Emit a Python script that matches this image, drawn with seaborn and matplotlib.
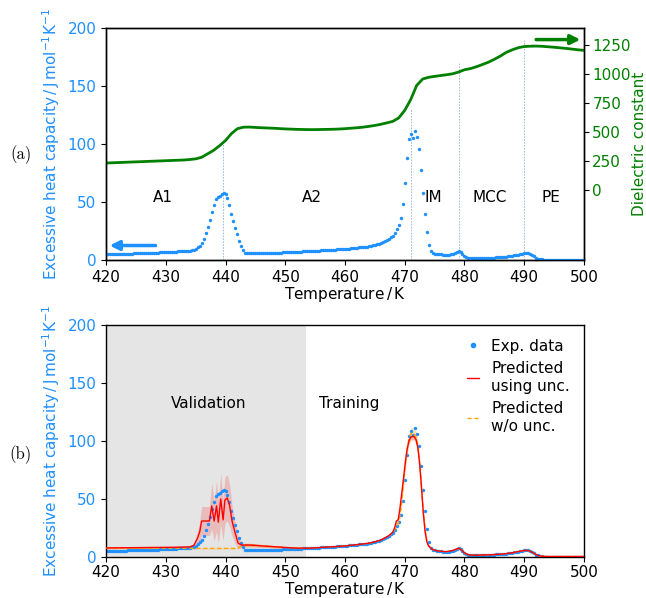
import numpy as np
import matplotlib
matplotlib.use("Agg")
import matplotlib.pyplot as plt
from matplotlib.lines import Line2D
import seaborn as sns

# ---------------- data ----------------
# Excess heat capacity, measured every 1/3 K from 420 K to 500 K
temp_exp = np.linspace(420, 500, 241)
cp_exp = [
    5.2, 5.2, 5.3, 5.3, 5.3, 5.4, 5.4, 5.4, 5.5, 5.5,
    5.5, 5.6, 5.6, 5.6, 5.7, 5.7, 5.7, 5.8, 5.8, 5.9,
    5.9, 6.0, 6.0, 6.1, 6.2, 6.3, 6.4, 6.5, 6.6, 6.7,
    6.8, 6.9, 7.0, 7.1, 7.2, 7.3, 7.4, 7.5, 7.6, 7.7,
    7.8, 7.9, 8.0, 8.3, 8.8, 9.5, 10.8, 12.5, 14.8, 18.5,
    23.5, 28.5, 34.5, 41.0, 47.5, 52.5, 54.5, 55.5, 56.5, 57.8,
    57.0, 53.5, 47.5, 40.0, 33.5, 27.5, 22.0, 16.5, 12.0, 8.5,
    6.2, 5.8, 5.7, 5.7, 5.8, 5.8, 5.8, 5.9, 5.9, 5.9,
    6.0, 6.0, 6.0, 6.1, 6.1, 6.2, 6.3, 6.4, 6.4, 6.5,
    6.6, 6.7, 6.8, 6.8, 6.9, 7.0, 7.1, 7.2, 7.3, 7.4,
    7.5, 7.5, 7.6, 7.7, 7.8, 7.9, 8.0, 8.1, 8.2, 8.3,
    8.4, 8.5, 8.6, 8.8, 8.9, 9.0, 9.1, 9.2, 9.3, 9.4,
    9.6, 9.7, 9.9, 10.0, 10.2, 10.4, 10.6, 10.8, 11.0, 11.2,
    11.4, 11.6, 11.9, 12.2, 12.6, 13.0, 13.5, 14.0, 14.6, 15.3,
    16.2, 17.3, 18.5, 19.8, 21.0, 23.5, 26.5, 30.0, 36.0, 48.0,
    66.0, 88.0, 104.0, 109.0, 105.0, 111.0, 106.0, 96.0, 78.0, 58.0,
    40.0, 24.0, 13.0, 8.0, 6.2, 5.6, 5.2, 5.0, 4.8, 4.6,
    4.5, 4.5, 4.7, 5.0, 5.4, 6.0, 7.0, 7.8, 6.8, 5.0,
    3.3, 2.4, 1.9, 1.6, 1.5, 1.4, 1.4, 1.5, 1.6, 1.6,
    1.7, 1.8, 1.8, 1.9, 2.0, 2.1, 2.2, 2.3, 2.4, 2.5,
    2.7, 2.9, 3.1, 3.3, 3.6, 3.9, 4.3, 4.7, 5.1, 5.5,
    5.8, 5.9, 5.7, 5.2, 4.3, 3.2, 2.1, 1.3, 0.8, 0.5,
    0.4, 0.4, 0.4, 0.4, 0.3, 0.3, 0.3, 0.3, 0.3, 0.3,
    0.3, 0.3, 0.3, 0.3, 0.3, 0.3, 0.3, 0.3, 0.3, 0.3, 0.3,
]

# Dielectric constant, every 1 K
temp_diel = np.arange(420, 501)
diel = [
    236, 238, 240, 242, 244, 246, 248, 250, 252, 254,
    256, 258, 260, 262, 266, 272, 285, 315, 345, 385,
    430, 490, 532, 545, 546, 543, 540, 538, 536, 533,
    530, 528, 526, 525, 524, 524, 525, 526, 527, 529,
    532, 536, 540, 545, 552, 560, 570, 582, 595, 625,
    690, 783, 905, 960, 975, 983, 990, 997, 1005, 1020,
    1040, 1050, 1066, 1085, 1105, 1130, 1158, 1190, 1212, 1230,
    1240, 1243, 1244, 1242, 1238, 1234, 1229, 1224, 1218, 1212, 1207,
]

# Phase boundaries and phase names
phase_T = [439.6, 471.0, 479.0, 490.0]
phase_line_top = [100, 130, 170, 190]
phase_names = ["A1", "A2", "IM", "MCC", "PE"]
phase_label_T = [429.5, 454.5, 474.7, 484.3, 494.5]

# Model predictions (with / without uncertainty information)
pred_T = [
    420, 422, 424, 426, 428, 430, 432, 434, 434.7, 435.3,
    435.7, 436.0, 437.3, 437.7, 438.1, 438.5, 438.8, 439.2, 439.6, 439.9,
    440.3, 440.7, 441.1, 441.6, 442.1, 442.7, 443.3, 444, 445, 446,
    448, 450, 452, 454, 456, 458, 460, 462, 464, 465,
    466, 467, 467.5, 468, 468.3, 468.6, 468.9, 469.2, 469.5, 469.8,
    470.1, 470.4, 470.7, 471.0, 471.3, 471.6, 471.9, 472.2, 472.5, 472.8,
    473.1, 473.4, 473.7, 474.0, 474.5, 475, 476, 477, 478, 478.5,
    479, 479.5, 480, 480.5, 481, 482, 483, 484, 485, 486,
    487, 488, 489, 490, 490.5, 491, 491.5, 492, 492.5, 493,
    494, 496, 498, 500,
]
cp_pred_unc = [
    7.8, 7.9, 8.0, 8.1, 8.2, 8.3, 8.4, 8.7, 10.0, 16.0,
    22.0, 31.0, 31.0, 44.0, 31.0, 44.0, 30.0, 50.0, 32.0, 49.0,
    51.0, 44.0, 31.0, 21.0, 12.0, 10.2, 10.3, 10.3, 10.0, 9.6,
    8.9, 8.2, 7.6, 7.6, 8.2, 8.8, 9.5, 10.6, 11.9, 13.0,
    14.6, 17.3, 19.0, 21.5, 25.0, 31.0, 32.0, 42.0, 55.0, 68.0,
    82.0, 93.0, 100.0, 103.0, 104.0, 103.5, 101.0, 94.0, 80.0, 60.0,
    38.0, 22.0, 13.0, 9.5, 7.0, 5.8, 4.9, 4.6, 5.5, 6.5,
    7.6, 6.0, 3.5, 2.2, 1.7, 1.5, 1.7, 1.9, 2.1, 2.4,
    2.9, 3.6, 4.7, 5.6, 5.7, 5.0, 3.6, 2.0, 1.0, 0.6,
    0.4, 0.4, 0.4, 0.4,
]
sd_pred_unc = [
    0.8, 0.8, 0.8, 0.8, 0.8, 0.8, 0.8, 0.8, 1.5, 6.0,
    9.0, 12.5, 12.5, 20.0, 17.0, 22.0, 18.0, 22.0, 18.0, 20.0,
    20.0, 18.0, 13.0, 9.0, 5.0, 2.0, 1.5, 1.5, 1.3, 1.2,
    1.0, 0.9, 0.8, 0.6, 0.6, 0.6, 0.6, 0.6, 0.7, 0.7,
    0.8, 0.9, 1.0, 1.2, 1.5, 2.0, 2.0, 2.5, 3.0, 3.0,
    3.0, 3.0, 3.0, 3.0, 3.0, 3.0, 3.0, 3.0, 3.0, 3.0,
    2.5, 2.0, 1.5, 1.0, 0.8, 0.6, 0.5, 0.5, 0.5, 0.5,
    0.5, 0.5, 0.5, 0.5, 0.5, 0.5, 0.5, 0.5, 0.5, 0.5,
    0.5, 0.5, 0.5, 0.5, 0.5, 0.5, 0.5, 0.5, 0.5, 0.5,
    0.5, 0.5, 0.5, 0.5,
]
cp_pred_nounc = [
    7.6, 7.6, 7.6, 7.6, 7.6, 7.6, 7.6, 7.5, 7.4, 7.4,
    7.4, 7.4, 7.4, 7.4, 7.4, 7.4, 7.4, 7.4, 7.4, 7.4,
    7.4, 7.4, 7.4, 7.4, 7.8, 9.5, 10.3, 10.3, 10.0, 9.6,
    8.9, 8.2, 7.6, 7.6, 8.2, 8.8, 9.5, 10.6, 11.9, 13.0,
    14.6, 17.3, 19.0, 21.0, 23.5, 26.5, 29.0, 36.0, 48.0, 64.0,
    80.0, 93.0, 102.0, 106.0, 107.0, 106.0, 103.0, 95.0, 80.0, 61.0,
    40.0, 24.0, 14.0, 9.5, 7.0, 5.8, 4.9, 4.6, 5.5, 6.5,
    7.6, 6.0, 3.5, 2.2, 1.7, 1.5, 1.7, 1.9, 2.1, 2.4,
    2.9, 3.6, 4.7, 5.6, 5.7, 5.0, 3.6, 2.0, 1.0, 0.6,
    0.4, 0.4, 0.4, 0.4,
]
sd_pred_nounc = [
    0.5, 0.5, 0.5, 0.5, 0.5, 0.5, 0.5, 0.5, 0.5, 0.5,
    0.5, 0.5, 0.5, 0.5, 0.5, 0.5, 0.5, 0.5, 0.5, 0.5,
    0.5, 0.5, 0.5, 0.5, 0.5, 1.0, 1.5, 1.5, 1.3, 1.2,
    1.0, 0.9, 0.8, 0.6, 0.6, 0.6, 0.6, 0.6, 0.6, 0.6,
    0.6, 0.8, 1.0, 1.5, 2.0, 2.5, 3.0, 3.5, 4.0, 4.5,
    5.0, 5.0, 5.0, 5.0, 5.0, 5.0, 5.0, 5.0, 5.0, 4.5,
    4.0, 3.0, 2.0, 1.5, 1.0, 0.8, 0.5, 0.5, 0.5, 0.5,
    0.5, 0.5, 0.5, 0.5, 0.5, 0.5, 0.5, 0.5, 0.5, 0.5,
    0.5, 0.5, 0.5, 0.5, 0.5, 0.5, 0.5, 0.5, 0.5, 0.5,
    0.5, 0.5, 0.5, 0.5,
]
validation_end = 453.5

# ---------------- style ----------------
sns.set_style("ticks")
plt.rcParams.update({
    "font.family": ["DejaVu Sans"],
    "font.size": 11,
    "axes.edgecolor": "black",
    "axes.labelcolor": "black",
    "text.color": "black",
    "xtick.color": "black",
    "ytick.color": "black",
    "xtick.direction": "out",
    "ytick.direction": "out",
    "axes.linewidth": 1.0,
})

BLUE = "dodgerblue"
GREEN = "green"
cp_label = r"Excessive heat capacity$\,/\,$J$\,$mol$^{-1}$K$^{-1}$"
t_label = r"Temperature$\,/\,$K"

fig = plt.figure(figsize=(6.46, 5.98), dpi=100)
ax_a = fig.add_axes([0.1641, 0.5652, 0.7399, 0.3880])
ax_b = fig.add_axes([0.1641, 0.0686, 0.7399, 0.3880])

# ---------------- panel (a) ----------------
sns.scatterplot(x=temp_exp, y=cp_exp, ax=ax_a, color=BLUE, s=6,
                linewidth=0, zorder=3, legend=False)
ax_a.vlines(phase_T, 0, phase_line_top, colors="steelblue",
            linestyles=(0, (2, 1.5)), linewidth=0.6, alpha=0.6, zorder=2)
for name, t in zip(phase_names, phase_label_T):
    ax_a.text(t, 54, name, ha="center", va="center", fontsize=11)

ax_a.annotate("", xy=(420.6, 12.5), xytext=(428.3, 12.5),
              arrowprops=dict(arrowstyle="-|>", color=BLUE, lw=2.5,
                              mutation_scale=14, shrinkA=0, shrinkB=0))
ax_a.annotate("", xy=(499.4, 190), xytext=(492.0, 190),
              arrowprops=dict(arrowstyle="-|>", color=GREEN, lw=2.5,
                              mutation_scale=14, shrinkA=0, shrinkB=0))

ax_a.set_xlim(420, 500)
ax_a.set_ylim(0, 200)
ax_a.set_xticks(range(420, 501, 10))
ax_a.set_yticks(range(0, 201, 50))
ax_a.tick_params(axis="y", labelcolor=BLUE)
ax_a.set_xlabel(t_label, labelpad=0)
ax_a.set_ylabel(cp_label, color=BLUE)

ax_r = ax_a.twinx()
sns.lineplot(x=temp_diel, y=diel, ax=ax_r, color=GREEN, linewidth=2.0,
             estimator=None, legend=False)
ax_r.set_ylim(-600, 1400)
ax_r.set_yticks([0, 250, 500, 750, 1000, 1250])
ax_r.tick_params(axis="y", labelcolor=GREEN, pad=2.5)
ax_r.set_ylabel("Dielectric constant", color=GREEN, labelpad=1)
ax_r.set_xlim(420, 500)

# ---------------- panel (b) ----------------
ax_b.axvspan(420, validation_end, color="#e5e5e5", lw=0, zorder=0)

lo_u = np.array(cp_pred_unc) - np.array(sd_pred_unc)
hi_u = np.array(cp_pred_unc) + np.array(sd_pred_unc)
lo_n = np.array(cp_pred_nounc) - np.array(sd_pred_nounc)
hi_n = np.array(cp_pred_nounc) + np.array(sd_pred_nounc)
ax_b.fill_between(pred_T, lo_n, hi_n, color="orange", alpha=0.3, lw=0, zorder=1)
ax_b.fill_between(pred_T, lo_u, hi_u, color="red", alpha=0.18, lw=0, zorder=1)

sns.scatterplot(x=temp_exp, y=cp_exp, ax=ax_b, color=BLUE, s=6,
                linewidth=0, zorder=2, legend=False)
sns.lineplot(x=pred_T, y=cp_pred_nounc, ax=ax_b, color="orange",
             linewidth=1.0, linestyle=(0, (3, 2)), estimator=None,
             legend=False, zorder=3)
sns.lineplot(x=pred_T, y=cp_pred_unc, ax=ax_b, color="red", linewidth=1.0,
             estimator=None, legend=False, zorder=4)

ax_b.text(437.1, 132, "Validation", ha="center", va="center", fontsize=11)
ax_b.text(460.75, 132, "Training", ha="center", va="center", fontsize=11)

handles = [
    Line2D([], [], marker="o", linestyle="none", color=BLUE, markersize=3),
    Line2D([], [], color="red", linewidth=1.0),
    Line2D([], [], color="orange", linewidth=1.0, linestyle=(0, (3, 2))),
]
labels = ["Exp. data", "Predicted\nusing unc.", "Predicted\nw/o unc."]
ax_b.legend(handles, labels, loc="upper right", frameon=False,
            handlelength=0.8, handletextpad=0.8, fontsize=11)

ax_b.set_xlim(420, 500)
ax_b.set_ylim(0, 200)
ax_b.set_xticks(range(420, 501, 10))
ax_b.set_yticks(range(0, 201, 50))
ax_b.tick_params(axis="y", labelcolor=BLUE)
ax_b.tick_params(axis="x", pad=2.5)
ax_b.set_xlabel(t_label, labelpad=0)
ax_b.set_ylabel(cp_label, color=BLUE)

# panel tags
fig.text(0.0325, 1 - 155 / 598, "(a)", family="cmr10", fontsize=12,
         ha="center", va="center")
fig.text(0.0325, 1 - 455 / 598, "(b)", family="cmr10", fontsize=12,
         ha="center", va="center")

fig.savefig("out.png", dpi=100)
